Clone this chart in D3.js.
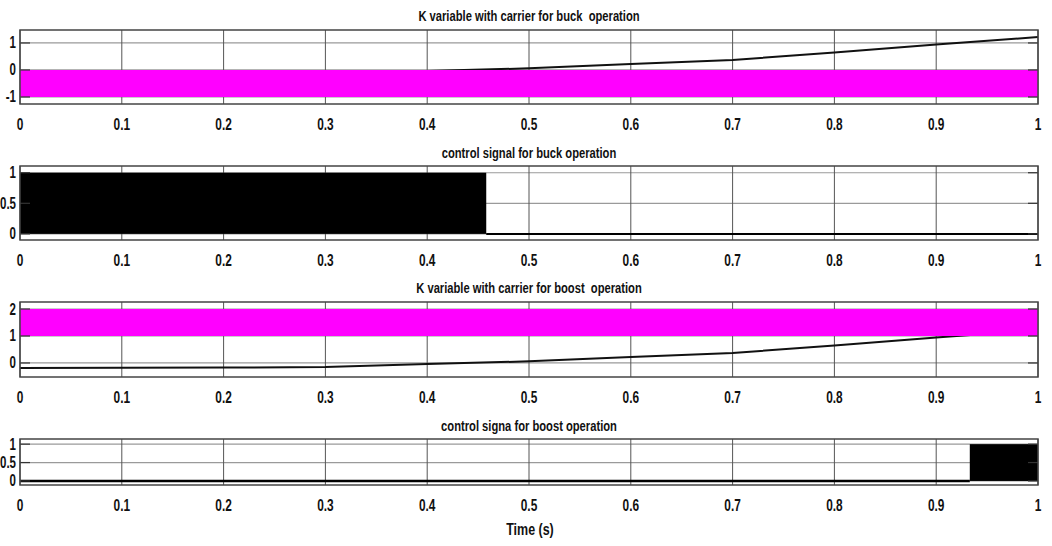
<!DOCTYPE html>
<html><head><meta charset="utf-8">
<script src="https://cdn.jsdelivr.net/npm/d3@7"></script>
<style>
body{margin:0;background:#fff;}
text{font-family:"Liberation Sans",Arial,sans-serif;font-weight:bold;fill:#111;white-space:pre;}
</style></head><body>
<svg id="c" width="1052" height="546"></svg>
<script>
// ---- data ----
const xTicks = [0,0.1,0.2,0.3,0.4,0.5,0.6,0.7,0.8,0.9,1];
const xTickLabels = ["0","0.1","0.2","0.3","0.4","0.5","0.6","0.7","0.8","0.9","1"];
const kTime  = [0, 0.1, 0.2, 0.3, 0.4, 0.5, 0.6, 0.7, 0.8, 0.9, 1.0];
const kValue = [-0.19, -0.18, -0.17, -0.15, -0.04, 0.06, 0.22, 0.37, 0.65, 0.94, 1.22];
const buckCarrier  = {min: -1, max: 0};
const boostCarrier = {min: 1, max: 2};
const buckPwmStart = 0, buckPwmEnd = 0.458;
const boostPwmStart = 0.933, boostPwmEnd = 1.0;
const titles = ["K variable with carrier for buck  operation","control signal for buck operation","K variable with carrier for boost  operation","control signa for boost operation"];
const yTicks1 = [-1,0,1], yTickLabels1 = ["-1","0","1"];
const yTicks2 = [0,0.5,1], yTickLabels2 = ["0","0.5","1"];
const yTicks3 = [0,1,2],  yTickLabels3 = ["0","1","2"];
const yTicks4 = [0,0.5,1], yTickLabels4 = ["0","0.5","1"];

const svg = d3.select("#c");
const X0 = 20, X1 = 1038;
const SX = 0.72;
function addText(parent, x, y, str, size, anchor, sx){
  parent.append("g").attr("transform",`translate(${x},${y}) scale(${sx||SX},1)`)
    .append("text").attr("text-anchor",anchor).attr("font-size",size).text(str);
}
const panels = [
  {top:30, bot:104, dom:[-1.26,1.48], yt:yTicks1, yl:yTickLabels1, title:titles[0], tY:21},
  {top:166, bot:240, dom:[-0.1,1.11], yt:yTicks2, yl:yTickLabels2, title:titles[1], tY:158},
  {top:302, bot:377, dom:[-0.52,2.26], yt:yTicks3, yl:yTickLabels3, title:titles[2], tY:293},
  {top:439, bot:485, dom:[-0.11,1.14], yt:yTicks4, yl:yTickLabels4, title:titles[3], tY:431}
];
panels.forEach((p,i)=>{
  const x = d3.scaleLinear().domain([0,1]).range([X0,X1]);
  const y = d3.scaleLinear().domain(p.dom).range([p.bot,p.top]);
  p.x=x; p.y=y;
  const g = svg.append("g");
  g.selectAll(".hg").data(p.yt).enter().append("line")
    .attr("x1",X0).attr("x2",X1).attr("y1",d=>y(d)).attr("y2",d=>y(d))
    .attr("stroke","#9a9a9a").attr("stroke-width",1.2);
  g.selectAll(".vg").data(xTicks).enter().append("line")
    .attr("x1",d=>x(d)).attr("x2",d=>x(d)).attr("y1",p.top).attr("y2",p.bot)
    .attr("stroke","#555").attr("stroke-width",1);
  p.g = g;
});

const line = (p)=> d3.line().x((d,i)=>p.x(kTime[i])).y(d=>p.y(d));
{
  const p = panels[0];
  p.g.append("path").datum(kValue).attr("d",line(p)).attr("fill","none").attr("stroke","#111").attr("stroke-width",2);
  p.g.append("path").datum([0,1]).attr("d",d3.area().x(d=>p.x(d)).y0(p.y(buckCarrier.min)).y1(p.y(buckCarrier.max)))
    .attr("fill","#ff00ff");
}
{
  const p = panels[1];
  p.g.append("rect").attr("x",p.x(buckPwmStart)).attr("width",p.x(buckPwmEnd)-p.x(buckPwmStart))
    .attr("y",p.y(1)).attr("height",p.y(0)-p.y(1)).attr("fill","#000");
  p.g.append("line").attr("x1",p.x(buckPwmEnd)).attr("x2",p.x(1)).attr("y1",p.y(0)).attr("y2",p.y(0))
    .attr("stroke","#000").attr("stroke-width",2);
}
{
  const p = panels[2];
  p.g.append("path").datum(kValue).attr("d",line(p)).attr("fill","none").attr("stroke","#111").attr("stroke-width",2);
  p.g.append("path").datum([0,1]).attr("d",d3.area().x(d=>p.x(d)).y0(p.y(boostCarrier.min)).y1(p.y(boostCarrier.max)))
    .attr("fill","#ff00ff");
}
{
  const p = panels[3];
  p.g.append("line").attr("x1",p.x(0)).attr("x2",p.x(boostPwmStart)).attr("y1",p.y(0)).attr("y2",p.y(0))
    .attr("stroke","#000").attr("stroke-width",2.5);
  p.g.append("rect").attr("x",p.x(boostPwmStart)).attr("width",p.x(boostPwmEnd)-p.x(boostPwmStart))
    .attr("y",p.y(1)).attr("height",p.y(0)-p.y(1)).attr("fill","#000");
}

panels.forEach(p=>{
  const g = p.g, x=p.x, y=p.y;
  p.yt.forEach(v=>{
    g.append("line").attr("x1",X0).attr("x2",X0+10).attr("y1",y(v)).attr("y2",y(v)).attr("stroke","#333").attr("stroke-width",1.2);
    g.append("line").attr("x1",X1-10).attr("x2",X1).attr("y1",y(v)).attr("y2",y(v)).attr("stroke","#333").attr("stroke-width",1.2);
  });
  g.append("rect").attr("x",X0).attr("y",p.top).attr("width",X1-X0).attr("height",p.bot-p.top)
    .attr("fill","none").attr("stroke","#444").attr("stroke-width",1.5);
  p.yt.forEach((v,i)=> addText(g, X0-4, y(v)+5.5, p.yl[i], 16, "end"));
  xTicks.forEach((v,i)=> addText(g, x(v), p.bot+26, xTickLabels[i], 16.5, "middle"));
  addText(g, (X0+X1)/2, p.tY, p.title, 14, "middle", 0.8);
});
addText(svg, 530, 535, "Time (s)", 16, "middle", 0.78);
</script>
</body></html>
